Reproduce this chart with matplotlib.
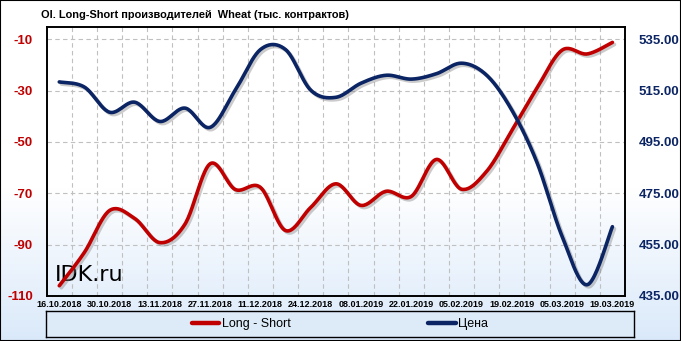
import matplotlib

matplotlib.use("Agg")
import matplotlib.pyplot as plt
import matplotlib.patheffects as pe
from matplotlib.patches import Rectangle
import numpy as np

plt.rcParams["font.family"] = ["Liberation Sans", "DejaVu Sans"]

# weekly dates, labelled every second week
dates = [
    "16.10.2018", "23.10.2018", "30.10.2018", "06.11.2018", "13.11.2018",
    "20.11.2018", "27.11.2018", "04.12.2018", "11.12.2018", "18.12.2018",
    "24.12.2018", "01.01.2019", "08.01.2019", "15.01.2019", "22.01.2019",
    "29.01.2019", "05.02.2019", "12.02.2019", "19.02.2019", "26.02.2019",
    "05.03.2019", "12.03.2019", "19.03.2019",
]
long_short = [
    -106, -93, -76.7, -79.8, -89.2, -82, -58.5, -68.5, -67.7, -84.5,
    -75.5, -66.3, -74.7, -69.2, -71.2, -56.8, -68.4, -61.4, -45.5, -29,
    -14.2, -15.7, -11.2,
]
price = [
    518.4, 516.4, 506.6, 510.5, 503, 508.2, 500.7, 515.2, 531, 531,
    515.2, 512.4, 517.9, 521, 519.5, 521.6, 525.7, 521, 507.4, 487,
    458.2, 439.4, 462,
]
left_ticks = [-110, -90, -70, -50, -30, -10]
right_ticks = [435, 455, 475, 495, 515, 535]

RED = "#C00000"
NAVY = "#0B2463"


def smooth(x, y, n=24):
    """Bezier smoothing like a spreadsheet 'smoothed line'."""
    p = np.column_stack([x, y]).astype(float)
    out = []
    for i in range(len(p) - 1):
        p0 = p[i - 1] if i > 0 else p[i]
        p1, p2 = p[i], p[i + 1]
        p3 = p[i + 2] if i + 2 < len(p) else p[i + 1]
        c1 = p1 + (p2 - p0) / 6
        c2 = p2 - (p3 - p1) / 6
        t = np.linspace(0, 1, n, endpoint=(i == len(p) - 2))[:, None]
        seg = ((1 - t) ** 3 * p1 + 3 * (1 - t) ** 2 * t * c1
               + 3 * (1 - t) * t ** 2 * c2 + t ** 3 * p2)
        out.append(seg)
    s = np.vstack(out)
    return s[:, 0], s[:, 1]


fig = plt.figure(figsize=(6.81, 3.41), dpi=100)

# background gradient: white at top, pale blue at bottom
bg = fig.add_axes([0, 0, 1, 1], zorder=-10)
grad = np.linspace(0, 1, 341)
grad = np.clip((grad - 0.55) / 0.45, 0, 1)
top = np.array([1.0, 1.0, 1.0])
bot = np.array([218, 233, 250]) / 255
img = top[None, :] * (1 - grad[:, None]) + bot[None, :] * grad[:, None]
bg.imshow(img[:, None, :], aspect="auto", extent=(0, 1, 0, 1))
bg.set_axis_off()

ax = fig.add_axes([46.7 / 681, 45 / 341, 578.3 / 681, 269 / 341])
ax.patch.set_alpha(0)
ax2 = ax.twinx()
ax2.patch.set_alpha(0)

x = np.arange(len(dates))
shadow = [pe.SimpleLineShadow(offset=(1.5, -1.5), shadow_color="#7f7f7f", alpha=0.4),
          pe.Normal()]
sx, sy = smooth(x, long_short)
l1, = ax.plot(sx, sy, color=RED, lw=2.6, solid_capstyle="round",
              path_effects=shadow, zorder=3, label="Long - Short")
sx, sy = smooth(x, price)
l2, = ax2.plot(sx, sy, color=NAVY, lw=2.6, solid_capstyle="round",
               path_effects=shadow, zorder=3, label="Цена")

ax.set_xlim(-0.5, len(dates) - 0.5)
ax.set_ylim(-110, -5.2)
ax2.set_ylim(435, 539.8)

ax.set_yticks(left_ticks)
ax.set_yticklabels([str(v) for v in left_ticks])
ax2.set_yticks(right_ticks)
ax2.set_yticklabels([f"{v:.2f}" for v in right_ticks])
ax.set_xticks(x[::2])
ax.set_xticklabels(dates[::2])
ax.set_xticks(x[:-1] + 0.5, minor=True)

ax.tick_params(axis="y", length=0, pad=10, labelcolor=RED, labelsize=9.5)
ax2.tick_params(axis="y", length=0, pad=10, labelcolor=NAVY, labelsize=9.5)
ax.tick_params(axis="x", which="both", length=0, pad=3, labelsize=6.5)
for lab in ax.get_yticklabels() + ax2.get_yticklabels() + ax.get_xticklabels():
    lab.set_fontweight("bold")

ax.grid(axis="y", color="#c0c0c0", ls=(0, (4, 3)), lw=0.8)
ax.grid(axis="x", which="minor", color="#c0c0c0", ls=(0, (4, 3)), lw=0.8)
ax.set_axisbelow(True)
for a in (ax, ax2):
    for sp in a.spines.values():
        sp.set_linewidth(1.2)
        sp.set_color("black")

ax.text(0.015, 0.055, "IDK.ru", transform=ax.transAxes, fontsize=16,
        family="DejaVu Sans", color="black", zorder=1)

fig.text(41 / 681, 1 - 15 / 341, "OI. Long-Short производителей  Wheat (тыс. контрактов)",
         fontsize=7.9, fontweight="bold", va="center", ha="left")

# legend box
lax = fig.add_axes([46 / 681, 4 / 341, 588 / 681, 26 / 341])
lax.set_facecolor("#DDEBF9")
lax.set_xticks([])
lax.set_yticks([])
for sp in lax.spines.values():
    sp.set_linewidth(1.0)
lax.legend(handles=[l1, l2], loc="center", ncol=2, frameon=False, fontsize=9,
           handlelength=2.2, handletextpad=0.2, columnspacing=11.0)
for h in lax.get_legend().legend_handles:
    h.set_path_effects([])
    h.set_linewidth(3.2)

fig.patches.append(Rectangle((0, 0), 1, 1, transform=fig.transFigure, fill=False,
                             edgecolor="black", lw=1.5, figure=fig))

fig.savefig("out.png", dpi=100)
